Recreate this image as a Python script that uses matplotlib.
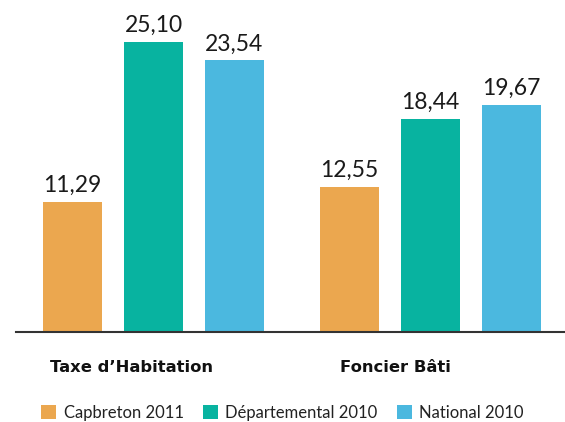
import numpy as np
import matplotlib
matplotlib.use('Agg')
import matplotlib.pyplot as plt

# données
groupes = ['Taxe d\u2019Habitation', 'Foncier B\u00e2ti']
series = ['Capbreton 2011', 'D\u00e9partemental 2010', 'National 2010']
capbreton = [11.29, 12.55]
departemental = [25.10, 18.44]
national = [23.54, 19.67]
couleurs = ['#EBA74F', '#08B3A0', '#4BB8DF']

valeurs = [capbreton, departemental, national]

fig = plt.figure(figsize=(5.65, 4.22), dpi=100)
ax = fig.add_axes([16 / 565, 1 - 332 / 422, 549 / 565, 332 / 422])

x = np.arange(len(groupes))
largeur = 0.213
decalage = 0.2924

for i, (nom, vals, c) in enumerate(zip(series, valeurs, couleurs)):
    pos = x + (i - 1) * decalage
    bars = ax.bar(pos, vals, width=largeur, color=c, label=nom)
    for b, v in zip(bars, vals):
        ax.annotate(f'{v:.2f}'.replace('.', ','),
                    (b.get_x() + b.get_width() / 2, v),
                    xytext=(0, 7), textcoords='offset points',
                    ha='center', va='baseline', fontsize=16.5,
                    family='Lato', color='#1a1a1a')

ax.set_xlim(-0.4964, 1.4856)
ax.set_ylim(0, 28.74)
for s in ['top', 'right', 'left']:
    ax.spines[s].set_visible(False)
ax.spines['bottom'].set_color('#333333')
ax.spines['bottom'].set_linewidth(1.5)
ax.set_xticks([])
ax.set_yticks([])

# libellés des groupes (légèrement décalés à gauche)
decal_lib = [-0.081, -0.126]
for xi, g, d in zip(x, groupes, decal_lib):
    ax.text(xi + d, -0.1205, g, transform=ax.get_xaxis_transform(),
            ha='center', va='baseline', fontsize=11.8, fontweight='bold',
            color='#111111')

fig.legend(loc='lower left', bbox_to_anchor=(41 / 565, 0.003), ncol=3,
           frameon=False, handlelength=0.9, handleheight=0.9,
           handletextpad=0.45, columnspacing=1.15, borderpad=0, borderaxespad=0,
           prop={'family': 'Lato', 'size': 12}, labelcolor='#222222')

fig.savefig('out.png', dpi=100)
